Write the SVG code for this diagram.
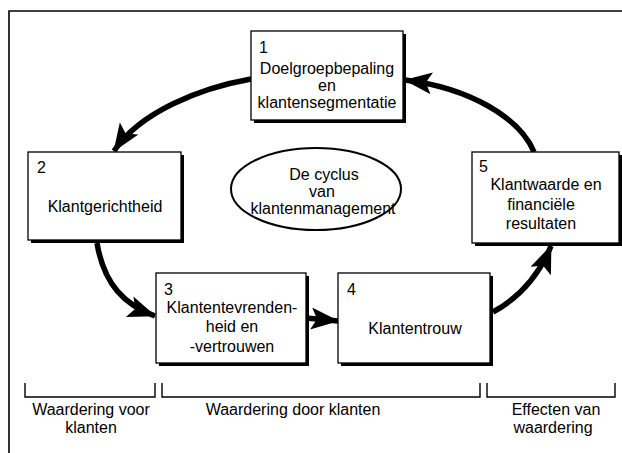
<svg xmlns="http://www.w3.org/2000/svg" width="622" height="453" viewBox="0 0 622 453">
<style>
text{font-family:"Liberation Sans",Arial,sans-serif;font-size:16px;fill:#000}
.c{text-anchor:middle}
.shadow{fill:#000}
.box{fill:#fff;stroke:#000;stroke-width:1.3}
.conn{fill:none;stroke:#000;stroke-width:5.5;stroke-linecap:butt}
.br{fill:none;stroke:#000;stroke-width:1.4}
.frame{fill:none;stroke:#000;stroke-width:1.6}
</style>
<defs>
<marker id="ah" markerUnits="userSpaceOnUse" markerWidth="30" markerHeight="24" refX="27" refY="11" orient="auto">
<path d="M0,0 L28,11 L0,22 L6,11 Z" fill="#000"/>
</marker>
</defs>
<g id="frame">
<path class="frame" d="M9,453 L9,11 L622,11"/>
</g>
<g id="connectors">
<path class="conn" marker-end="url(#ah)" d="M251,79 C200,88 140,112 114,151"/>
<path class="conn" marker-end="url(#ah)" d="M97,243 C104,285 125,305 155,316"/>
<path class="conn" marker-end="url(#ah)" d="M306,318 L338,321"/>
<path class="conn" marker-end="url(#ah)" d="M493,312 C515,300 537,280 551,246"/>
<path class="conn" marker-end="url(#ah)" d="M534,152 C520,118 470,88 405,80"/>
</g>
<g id="node1">
<rect class="shadow" x="254" y="34" width="152" height="89"/>
<rect class="box" x="251" y="31" width="152" height="89"/>
<text x="259" y="53">1</text>
<text class="c" x="327" y="74">Doelgroepbepaling</text>
<text class="c" x="327" y="91">en</text>
<text class="c" x="327" y="108">klantensegmentatie</text>
</g>
<g id="node2">
<rect class="shadow" x="31" y="155" width="153" height="88"/>
<rect class="box" x="28" y="152" width="153" height="88"/>
<text x="37" y="173">2</text>
<text class="c" x="105" y="212">Klantgerichtheid</text>
</g>
<g id="node3">
<rect class="shadow" x="159" y="276" width="150" height="90"/>
<rect class="box" x="156" y="273" width="150" height="90"/>
<text x="164" y="295">3</text>
<text class="c" x="232" y="313">Klantentevrenden-</text>
<text class="c" x="232" y="332">heid en</text>
<text class="c" x="232" y="352">-vertrouwen</text>
</g>
<g id="node4">
<rect class="shadow" x="341" y="276" width="152" height="90"/>
<rect class="box" x="338" y="273" width="152" height="90"/>
<text x="347" y="295">4</text>
<text class="c" x="415" y="334">Klantentrouw</text>
</g>
<g id="node5">
<rect class="shadow" x="475" y="155" width="147" height="91"/>
<rect class="box" x="472" y="152" width="147" height="91"/>
<text x="479" y="172">5</text>
<text class="c" x="546" y="190">Klantwaarde en</text>
<text class="c" x="541" y="210">financiële</text>
<text class="c" x="541" y="229">resultaten</text>
</g>
<g id="center">
<ellipse cx="316" cy="189" rx="85" ry="41" fill="#fff" stroke="#000" stroke-width="2"/>
<text class="c" x="324" y="180">De cyclus</text>
<text class="c" x="322" y="197">van</text>
<text class="c" x="323" y="214">klantenmanagement</text>
</g>
<g id="brackets">
<path class="br" d="M25,383 L25,397 L155,397 L155,383"/>
<path class="br" d="M162,383 L162,397 L480,397 L480,383"/>
<path class="br" d="M487,383 L487,397 L615,397 L615,383"/>
<text class="c" x="91" y="415">Waardering voor</text>
<text class="c" x="91" y="433">klanten</text>
<text class="c" x="293" y="415">Waardering door klanten</text>
<text class="c" x="556" y="415">Effecten van</text>
<text class="c" x="553" y="433">waardering</text>
</g>
</svg>
